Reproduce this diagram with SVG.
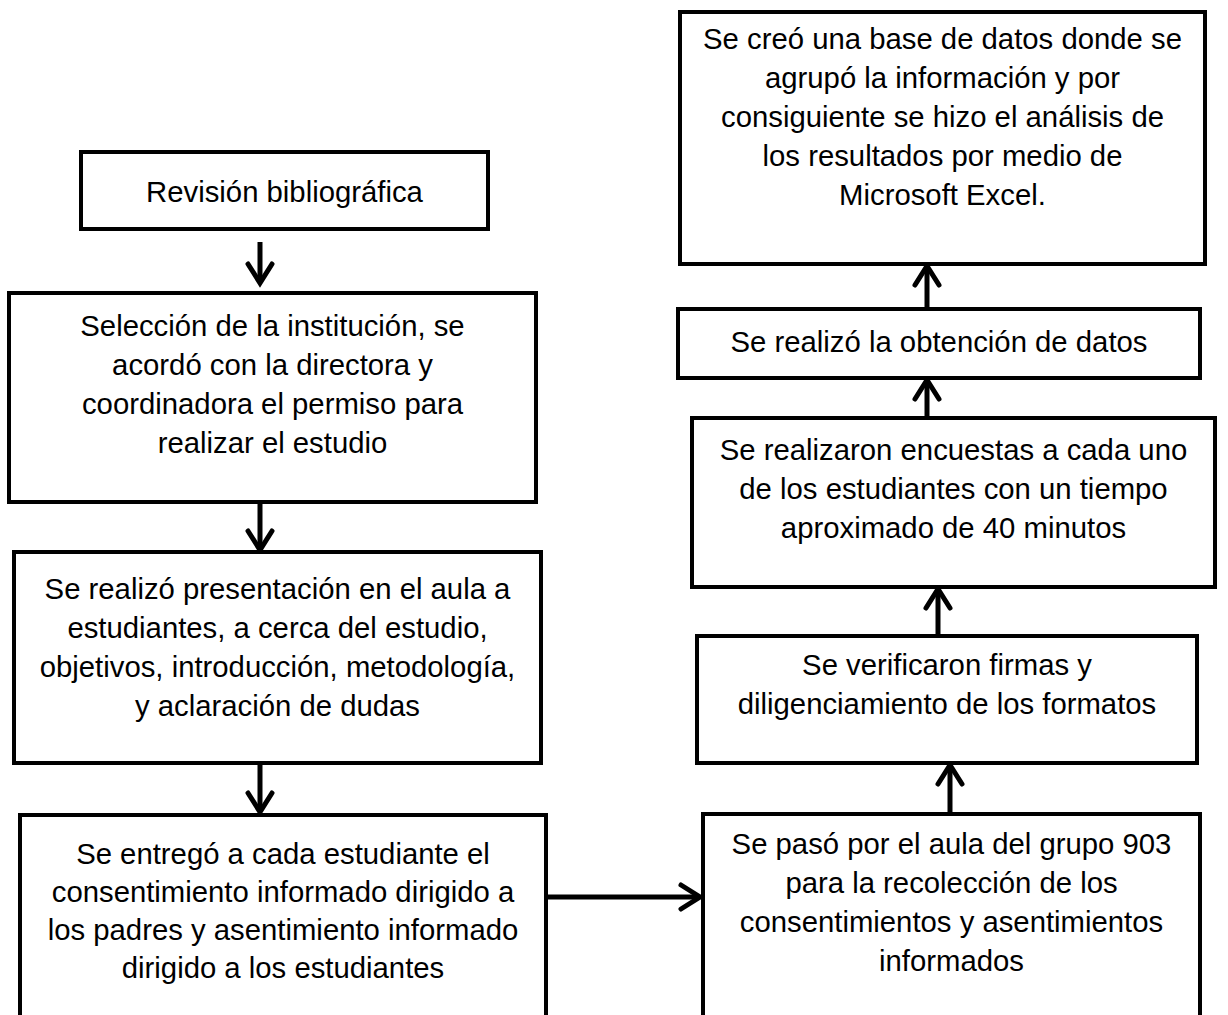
<svg xmlns="http://www.w3.org/2000/svg" width="1228" height="1015" viewBox="0 0 1228 1015">
<style>
  .box { fill: #ffffff; stroke: #000000; stroke-width: 4; }
  .t { font-family: "Liberation Sans", Arial, sans-serif; font-size: 29.3px; fill: #000000; text-anchor: middle; }
  .conn { fill: none; stroke: #000000; stroke-width: 5; marker-end: url(#chev); }
</style>
<defs>
  <marker id="chev" markerUnits="userSpaceOnUse" markerWidth="50" markerHeight="50" viewBox="-25 -25 50 50" refX="0" refY="0" orient="auto" overflow="visible">
    <path d="M-19,-12 L0,0 L-19,12" fill="none" stroke="#000000" stroke-width="5" stroke-linejoin="miter" stroke-linecap="round"/>
  </marker>
</defs>
<rect width="1228" height="1015" fill="#ffffff"/>

<g id="connectors">
  <path class="conn" d="M260,242 L260,283"/>
  <path class="conn" d="M260,502 L260,550"/>
  <path class="conn" d="M260,763 L260,812"/>
  <path class="conn" d="M546,897 L700,897"/>
  <path class="conn" d="M950,814 L950,765"/>
  <path class="conn" d="M938,636 L938,589"/>
  <path class="conn" d="M927,418 L927,380"/>
  <path class="conn" d="M927,309 L927,266"/>
</g>

<g id="n1">
  <rect class="box" x="81" y="152" width="407" height="77"/>
  <text class="t" x="284.5" y="202">Revisión bibliográfica</text>
</g>
<g id="n2">
  <rect class="box" x="9" y="293" width="527" height="209"/>
  <text class="t" x="272.5" y="336">Selección de la institución, se</text>
  <text class="t" x="272.5" y="375">acordó con la directora y</text>
  <text class="t" x="272.5" y="414">coordinadora el permiso para</text>
  <text class="t" x="272.5" y="453">realizar el estudio</text>
</g>
<g id="n3">
  <rect class="box" x="14" y="552" width="527" height="211"/>
  <text class="t" x="277.5" y="599">Se realizó presentación en el aula a</text>
  <text class="t" x="277.5" y="638">estudiantes, a cerca del estudio,</text>
  <text class="t" x="277.5" y="677">objetivos, introducción, metodología,</text>
  <text class="t" x="277.5" y="716">y aclaración de dudas</text>
</g>
<g id="n4">
  <rect class="box" x="20" y="815" width="526" height="210"/>
  <text class="t" x="283" y="864">Se entregó a cada estudiante el</text>
  <text class="t" x="283" y="902">consentimiento informado dirigido a</text>
  <text class="t" x="283" y="940">los padres y asentimiento informado</text>
  <text class="t" x="283" y="978">dirigido a los estudiantes</text>
</g>
<g id="n5">
  <rect class="box" x="703" y="814" width="497" height="211"/>
  <text class="t" x="951.5" y="854">Se pasó por el aula del grupo 903</text>
  <text class="t" x="951.5" y="893">para la recolección de los</text>
  <text class="t" x="951.5" y="932">consentimientos y asentimientos</text>
  <text class="t" x="951.5" y="971">informados</text>
</g>
<g id="n6">
  <rect class="box" x="697" y="636" width="500" height="127"/>
  <text class="t" x="947" y="675">Se verificaron firmas y</text>
  <text class="t" x="947" y="714">diligenciamiento de los formatos</text>
</g>
<g id="n7">
  <rect class="box" x="692" y="418" width="523" height="169"/>
  <text class="t" x="953.5" y="460">Se realizaron encuestas a cada uno</text>
  <text class="t" x="953.5" y="499">de los estudiantes con un tiempo</text>
  <text class="t" x="953.5" y="538">aproximado de 40 minutos</text>
</g>
<g id="n8">
  <rect class="box" x="678" y="309" width="522" height="69"/>
  <text class="t" x="939" y="352">Se realizó la obtención de datos</text>
</g>
<g id="n9">
  <rect class="box" x="680" y="12" width="525" height="252"/>
  <text class="t" x="942.5" y="49">Se creó una base de datos donde se</text>
  <text class="t" x="942.5" y="88">agrupó la información y por</text>
  <text class="t" x="942.5" y="127">consiguiente se hizo el análisis de</text>
  <text class="t" x="942.5" y="166">los resultados por medio de</text>
  <text class="t" x="942.5" y="205">Microsoft Excel.</text>
</g>
</svg>
